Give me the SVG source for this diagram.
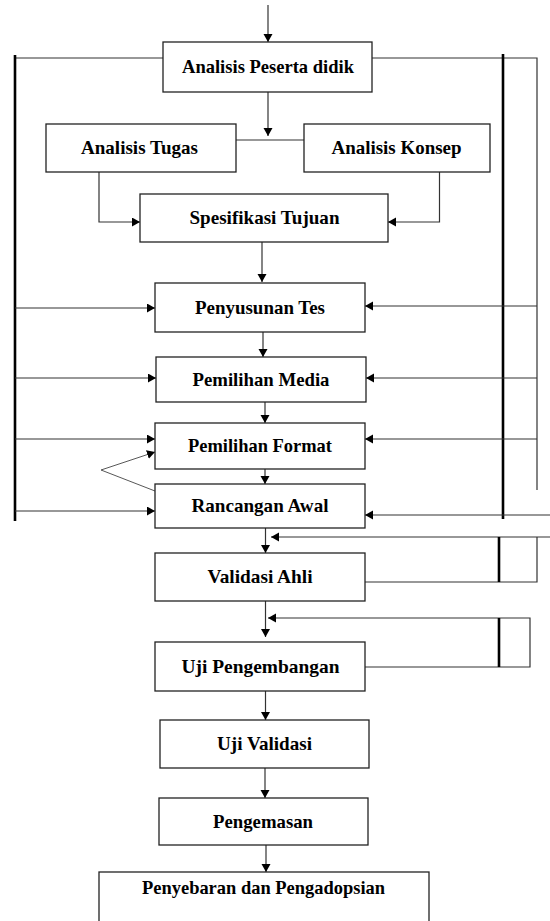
<svg xmlns="http://www.w3.org/2000/svg" width="550" height="921" viewBox="0 0 550 921">
<style>
.box{fill:#fff;stroke:#222;stroke-width:1.3}
.lbl{font-family:"Liberation Serif","Times New Roman",serif;font-weight:bold;font-size:19.5px;fill:#000;text-anchor:middle}
.ln{fill:none;stroke:#333;stroke-width:1.2}
.thin{fill:none;stroke:#444;stroke-width:0.9}
.bar{fill:none;stroke:#000;stroke-width:2.6}
</style>
<defs>
<marker id="ah" markerWidth="10" markerHeight="10" refX="8" refY="4.5" orient="auto" markerUnits="userSpaceOnUse">
<path d="M0,0 L8,4.5 L0,9 z" fill="#000"/>
</marker>
</defs>
<rect width="550" height="921" fill="#fff"/>
<g id="connectors">
<line class="ln" x1="268" y1="5" x2="268" y2="42" marker-end="url(#ah)"/>
<line class="ln" x1="163" y1="58" x2="15" y2="58"/>
<polyline class="ln" points="372,58 537,58 537,490"/>
<line class="bar" x1="15" y1="55" x2="15" y2="521"/>
<line class="bar" x1="503" y1="54" x2="503" y2="519"/>
<line class="ln" x1="268" y1="92" x2="268" y2="136" marker-end="url(#ah)"/>
<line class="ln" x1="236" y1="140" x2="304" y2="140"/>
<polyline class="ln" points="99,172 99,222 140,222" marker-end="url(#ah)"/>
<polyline class="ln" points="439.5,172 439.5,222 388,222" marker-end="url(#ah)"/>
<line class="ln" x1="262" y1="242" x2="262" y2="282" marker-end="url(#ah)"/>
<line class="ln" x1="15" y1="308" x2="155" y2="308" marker-end="url(#ah)"/>
<line class="ln" x1="537" y1="306" x2="365" y2="306" marker-end="url(#ah)"/>
<line class="ln" x1="263" y1="332" x2="263" y2="357" marker-end="url(#ah)"/>
<line class="ln" x1="15" y1="378" x2="156" y2="378" marker-end="url(#ah)"/>
<line class="ln" x1="537" y1="378" x2="366" y2="378" marker-end="url(#ah)"/>
<line class="ln" x1="265" y1="402" x2="265" y2="423" marker-end="url(#ah)"/>
<line class="ln" x1="15" y1="439" x2="155" y2="439" marker-end="url(#ah)"/>
<line class="ln" x1="537" y1="439" x2="365" y2="439" marker-end="url(#ah)"/>
<polyline class="thin" points="155,491 101,470 155,452" marker-end="url(#ah)"/>
<line class="ln" x1="265" y1="469" x2="265" y2="484" marker-end="url(#ah)"/>
<line class="ln" x1="15" y1="511" x2="155" y2="511" marker-end="url(#ah)"/>
<line class="ln" x1="550" y1="515" x2="365" y2="515" marker-end="url(#ah)"/>
<line class="ln" x1="265.5" y1="528" x2="265.5" y2="553" marker-end="url(#ah)"/>
<line class="ln" x1="550" y1="537" x2="271" y2="537" marker-end="url(#ah)"/>
<polyline class="ln" points="365,582 537,582 537,537"/>
<line class="bar" x1="499" y1="537" x2="499" y2="582"/>
<line class="ln" x1="265.5" y1="601" x2="265.5" y2="637" marker-end="url(#ah)"/>
<polyline class="ln" points="365,667 530,667 530,618 268,618" marker-end="url(#ah)"/>
<line class="bar" x1="499" y1="618" x2="499" y2="667"/>
<line class="ln" x1="265.5" y1="691" x2="265.5" y2="720" marker-end="url(#ah)"/>
<line class="ln" x1="265" y1="768" x2="265" y2="798" marker-end="url(#ah)"/>
<line class="ln" x1="266" y1="845" x2="266" y2="872" marker-end="url(#ah)"/>
</g>
<g id="n-analisis-peserta"><rect class="box" x="163" y="42" width="209" height="50"/><text class="lbl" x="268" y="73" textLength="172" lengthAdjust="spacingAndGlyphs">Analisis Peserta didik</text></g>
<g id="n-analisis-tugas"><rect class="box" x="46" y="124" width="190" height="48"/><text class="lbl" x="139.5" y="154" textLength="117" lengthAdjust="spacingAndGlyphs">Analisis Tugas</text></g>
<g id="n-analisis-konsep"><rect class="box" x="304" y="124" width="186" height="48"/><text class="lbl" x="396.5" y="154" textLength="130" lengthAdjust="spacingAndGlyphs">Analisis Konsep</text></g>
<g id="n-spesifikasi"><rect class="box" x="140" y="194" width="248" height="48"/><text class="lbl" x="264.5" y="224" textLength="150" lengthAdjust="spacingAndGlyphs">Spesifikasi Tujuan</text></g>
<g id="n-penyusunan"><rect class="box" x="155" y="283" width="210" height="49"/><text class="lbl" x="260" y="313.5" textLength="130" lengthAdjust="spacingAndGlyphs">Penyusunan Tes</text></g>
<g id="n-media"><rect class="box" x="156" y="357" width="210" height="45"/><text class="lbl" x="261" y="385.5" textLength="137" lengthAdjust="spacingAndGlyphs">Pemilihan Media</text></g>
<g id="n-format"><rect class="box" x="155" y="423" width="210" height="46"/><text class="lbl" x="260" y="452" textLength="144" lengthAdjust="spacingAndGlyphs">Pemilihan Format</text></g>
<g id="n-rancangan"><rect class="box" x="155" y="484" width="210" height="44"/><text class="lbl" x="260" y="512" textLength="137" lengthAdjust="spacingAndGlyphs">Rancangan Awal</text></g>
<g id="n-validasi-ahli"><rect class="box" x="155" y="553" width="210" height="48"/><text class="lbl" x="260" y="583" textLength="105" lengthAdjust="spacingAndGlyphs">Validasi Ahli</text></g>
<g id="n-uji-pengembangan"><rect class="box" x="155" y="642" width="210" height="49"/><text class="lbl" x="260.5" y="672.5" textLength="158" lengthAdjust="spacingAndGlyphs">Uji Pengembangan</text></g>
<g id="n-uji-validasi"><rect class="box" x="160" y="720" width="209" height="48"/><text class="lbl" x="264.5" y="750" textLength="95" lengthAdjust="spacingAndGlyphs">Uji Validasi</text></g>
<g id="n-pengemasan"><rect class="box" x="159" y="798" width="209" height="47"/><text class="lbl" x="263" y="827.5" textLength="100" lengthAdjust="spacingAndGlyphs">Pengemasan</text></g>
<g id="n-penyebaran"><rect class="box" x="99" y="872" width="330" height="60"/><text class="lbl" x="263.5" y="893.5" textLength="243" lengthAdjust="spacingAndGlyphs">Penyebaran dan Pengadopsian</text></g>
</svg>
